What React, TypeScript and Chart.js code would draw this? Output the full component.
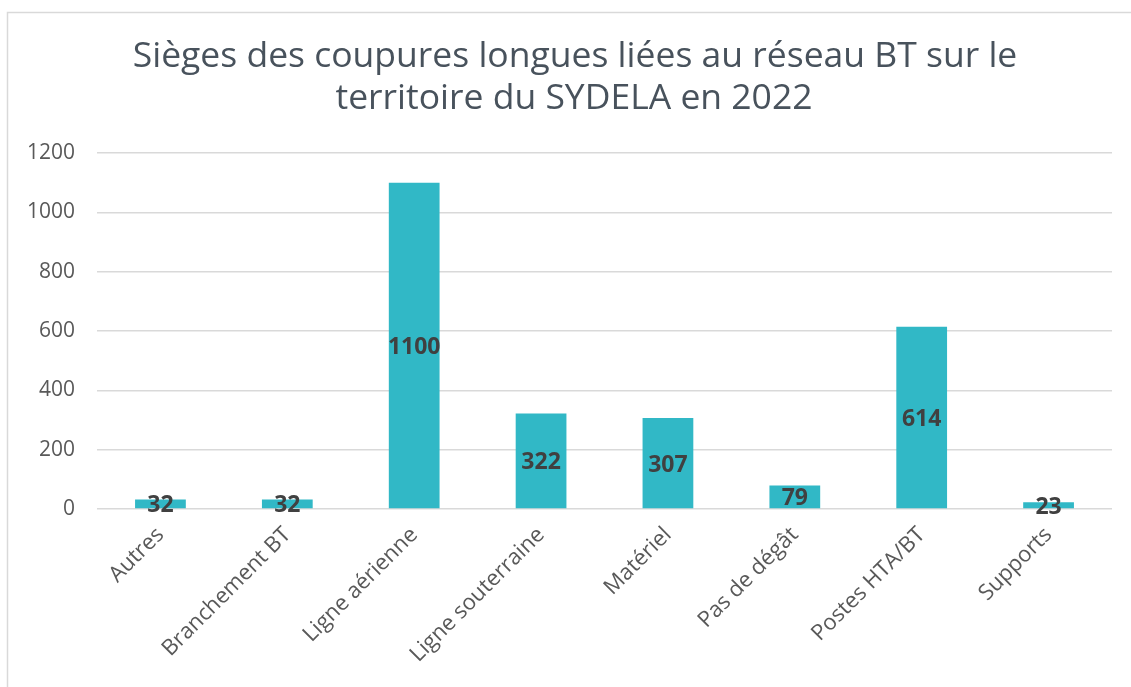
import React, { useEffect, useRef } from "react";
import { Chart, registerables } from "chart.js";

Chart.register(...registerables);

const categories = [
  "Autres",
  "Branchement BT",
  "Ligne aérienne",
  "Ligne souterraine",
  "Matériel",
  "Pas de dégât",
  "Postes HTA/BT",
  "Supports",
];
const values = [32, 32, 1100, 322, 307, 79, 614, 23];
const titleLines = [
  "Sièges des coupures longues liées au réseau BT sur le",
  "territoire du SYDELA en 2022",
];
const yTicks = [0, 200, 400, 600, 800, 1000, 1200];

const FONT = "'Open Sans', 'Noto Sans', sans-serif";

const decorPlugin = {
  id: "decor",
  beforeDraw(chart: any) {
    const ctx = chart.ctx;
    ctx.save();
    ctx.fillStyle = "#ffffff";
    ctx.fillRect(0, 0, chart.width, chart.height);
    ctx.strokeStyle = "#d9d9d9";
    ctx.lineWidth = 1.5;
    ctx.strokeRect(7.5, 12.5, chart.width + 20, chart.height + 20);
    ctx.fillStyle = "#48525c";
    ctx.font = `35.5px ${FONT}`;
    ctx.textAlign = "center";
    ctx.textBaseline = "alphabetic";
    ctx.fillText(titleLines[0], 575, 67);
    ctx.fillText(titleLines[1], 574, 109);
    ctx.restore();
  },
  afterDatasetsDraw(chart: any) {
    const ctx = chart.ctx;
    const meta = chart.getDatasetMeta(0);
    ctx.save();
    ctx.fillStyle = "#404040";
    ctx.font = `bold 23px ${FONT}`;
    ctx.textAlign = "center";
    ctx.textBaseline = "middle";
    meta.data.forEach((bar: any, i: number) => {
      const y = (bar.y + bar.base) / 2;
      ctx.fillText(String(values[i]), bar.x, y + 2);
    });
    ctx.restore();
  },
};

export default function App() {
  const ref = useRef<HTMLCanvasElement>(null);
  useEffect(() => {
    if (!ref.current) return;
    const chart = new Chart(ref.current, {
      type: "bar",
      data: {
        labels: categories,
        datasets: [
          {
            data: values,
            backgroundColor: "#31b8c6",
            borderWidth: 0,
            categoryPercentage: 0.4,
            barPercentage: 1,
          },
        ],
      },
      options: {
        animation: false,
        responsive: false,
        maintainAspectRatio: false,
        layout: { padding: { top: 153, right: 19, left: 0, bottom: 0 } },
        plugins: {
          legend: { display: false },
          title: { display: false },
          tooltip: { enabled: false },
        },
        scales: {
          x: {
            grid: { display: false, drawTicks: false },
            border: { display: false },
            ticks: {
              color: "#595959",
              font: { family: FONT, size: 22 },
              maxRotation: 45,
              minRotation: 45,
              padding: 13,
              autoSkip: false,
            },
            afterFit(scale: any) {
              scale.height = 178;
            },
          },
          y: {
            min: 0,
            max: 1200,
            afterBuildTicks(scale: any) {
              scale.ticks = yTicks.map((v) => ({ value: v }));
            },
            grid: { color: "#d9d9d9", lineWidth: 1.5, drawTicks: false },
            border: { display: false },
            ticks: {
              color: "#595959",
              font: { family: FONT, size: 21 },
              padding: 22,
              callback: (v: any) => String(v),
            },
            afterFit(scale: any) {
              scale.width = 97;
            },
          },
        },
      },
      plugins: [decorPlugin],
    });
    return () => chart.destroy();
  }, []);
  return (
    <div style={{ position: "absolute", left: 0, top: 0, width: 1131, height: 687 }}>
      <canvas ref={ref} width={1131} height={687} style={{ display: "block" }} />
    </div>
  );
}
